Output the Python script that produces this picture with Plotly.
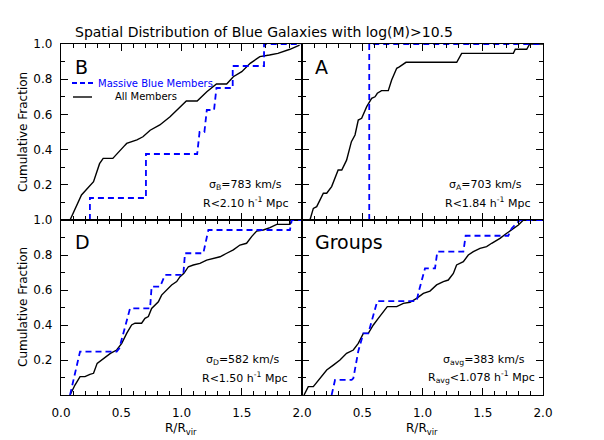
import plotly.graph_objects as go
from plotly.subplots import make_subplots

# the page adds an 8px body margin, so the figure is drawn 8px smaller
# and every pixel position below is measured in the 604x440 reference frame
PAGE, OFF = (604, 440), 8
W, H = PAGE[0] - OFF, PAGE[1] - OFF
FONT = "DejaVu Sans"
BLUE = "#0000ff"

TITLE = "Spatial Distribution of Blue Galaxies with log(M)>10.5"
PANEL_NAMES = ["B", "A", "D", "Groups"]
SIGMA_LABELS = [
    "σ<sub>B</sub>=783 km/s",
    "σ<sub>A</sub>=703 km/s",
    "σ<sub>D</sub>=582 km/s",
    "σ<sub>avg</sub>=383 km/s",
]
RADIUS_LABELS = [
    "R&lt;2.10 h<sup>-1</sup> Mpc",
    "R&lt;1.84 h<sup>-1</sup> Mpc",
    "R&lt;1.50 h<sup>-1</sup> Mpc",
    "R<sub>avg</sub>&lt;1.078 h<sup>-1</sup> Mpc",
]
LEGEND_NAMES = ["Massive Blue Members", "All Members"]
X_TICKS = [0.0, 0.5, 1.0, 1.5, 2.0]
Y_TICKS = [0.0, 0.2, 0.4, 0.6, 0.8, 1.0]

# panel B (cluster B)
B_ALL_X = [0.075, 0.17, 0.27, 0.32, 0.35, 0.43, 0.52, 0.545, 0.63, 0.68, 0.74, 0.82, 0.905,
           0.99, 1.04, 1.13, 1.21, 1.29, 1.375, 1.43, 1.50, 1.57, 1.65, 1.73, 1.80, 1.90, 1.98]
B_ALL_Y = [0.0, 0.142, 0.218, 0.32, 0.35, 0.35, 0.417, 0.435, 0.455, 0.473, 0.51, 0.54, 0.587,
           0.644, 0.676, 0.676, 0.729, 0.773, 0.773, 0.814, 0.843, 0.89, 0.928, 0.9375, 0.947, 0.97, 0.994]
B_BLUE_X = [0.24, 0.24, 0.705, 0.705, 1.13, 1.15, 1.19, 1.21, 1.27, 1.29, 1.425, 1.425, 1.685, 1.685, 2.0]
B_BLUE_Y = [0.0, 0.125, 0.125, 0.375, 0.375, 0.5, 0.5, 0.625, 0.625, 0.75, 0.75, 0.875, 0.875, 1.0, 1.0]

# panel A (cluster A)
A_ALL_X = [0.066, 0.094, 0.122, 0.177, 0.205, 0.246, 0.30, 0.33, 0.37, 0.41, 0.44, 0.467, 0.495,
           0.537, 0.578, 0.606, 0.625, 0.66, 0.716, 0.744, 0.786, 0.808, 0.863, 1.284, 1.325,
           1.754, 1.77, 1.865, 1.89, 2.0]
A_ALL_Y = [0.0, 0.066, 0.076, 0.152, 0.152, 0.19, 0.284, 0.284, 0.34, 0.445, 0.483, 0.568, 0.578,
           0.644, 0.691, 0.70, 0.72, 0.735, 0.735, 0.795, 0.862, 0.87, 0.896, 0.896, 0.947,
           0.947, 0.97, 0.97, 1.0, 1.0]
A_BLUE_X = [0.558, 0.558, 2.0]
A_BLUE_Y = [0.0, 1.0, 1.0]

# panel D (cluster D)
D_ALL_X = [0.075, 0.116, 0.158, 0.199, 0.24, 0.27, 0.30, 0.34, 0.37, 0.41, 0.462, 0.504, 0.545,
           0.586, 0.614, 0.669, 0.697, 0.725, 0.752, 0.78, 0.808, 0.835, 0.877, 0.918, 0.96,
           0.988, 1.02, 1.057, 1.098, 1.153, 1.209, 1.264, 1.32, 1.375, 1.43, 1.485, 1.54,
           1.582, 1.624, 1.679, 1.734, 1.79, 1.90, 1.915, 2.0]
D_ALL_Y = [0.0, 0.057, 0.105, 0.105, 0.118, 0.124, 0.181, 0.20, 0.219, 0.238, 0.257, 0.295, 0.352,
           0.40, 0.41, 0.41, 0.438, 0.448, 0.495, 0.514, 0.533, 0.571, 0.60, 0.629, 0.648,
           0.676, 0.695, 0.733, 0.743, 0.752, 0.771, 0.781, 0.79, 0.81, 0.829, 0.857, 0.867,
           0.905, 0.937, 0.943, 0.956, 0.975, 0.975, 1.0, 1.0]
D_BLUE_X = [0.075, 0.158, 0.462, 0.484, 0.573, 0.739, 0.752, 0.822, 0.863, 1.015, 1.029, 1.181,
            1.223, 1.90, 1.915, 2.0]
D_BLUE_Y = [0.0, 0.248, 0.248, 0.267, 0.495, 0.495, 0.619, 0.619, 0.686, 0.686, 0.81, 0.81,
            0.943, 0.943, 1.0, 1.0]

# stacked groups
G_ALL_X = [0.017, 0.052, 0.094, 0.149, 0.205, 0.26, 0.315, 0.37, 0.426, 0.467, 0.509, 0.55, 0.592,
           0.633, 0.675, 0.708, 0.786, 0.841, 0.896, 0.951, 1.007, 1.062, 1.117, 1.173, 1.214,
           1.256, 1.283, 1.339, 1.38, 1.422, 1.477, 1.532, 1.574, 1.643, 1.699, 1.754, 1.796,
           1.837, 2.0]
G_ALL_Y = [0.0, 0.048, 0.048, 0.095, 0.143, 0.171, 0.20, 0.238, 0.257, 0.295, 0.352, 0.352, 0.40,
           0.438, 0.476, 0.505, 0.505, 0.524, 0.53, 0.552, 0.581, 0.594, 0.629, 0.648, 0.657,
           0.695, 0.743, 0.762, 0.80, 0.819, 0.838, 0.848, 0.867, 0.895, 0.924, 0.952, 0.971,
           1.0, 1.0]
G_BLUE_X = [0.246, 0.274, 0.412, 0.426, 0.467, 0.509, 0.55, 0.625, 0.952, 0.965, 1.021, 1.104,
            1.123, 1.339, 1.358, 1.712, 1.74, 1.809, 2.0]
G_BLUE_Y = [0.0, 0.086, 0.086, 0.095, 0.25, 0.352, 0.352, 0.537, 0.537, 0.581, 0.724, 0.724,
            0.819, 0.819, 0.91, 0.91, 0.952, 1.0, 1.0]

ALL_X = [B_ALL_X, A_ALL_X, D_ALL_X, G_ALL_X]
ALL_Y = [B_ALL_Y, A_ALL_Y, D_ALL_Y, G_ALL_Y]
BLUE_X = [B_BLUE_X, A_BLUE_X, D_BLUE_X, G_BLUE_X]
BLUE_Y = [B_BLUE_Y, A_BLUE_Y, D_BLUE_Y, G_BLUE_Y]


def px(x):
    return (x - OFF) / W


def py(y):
    return 1 - (y - OFF) / H


def note(x, y, text, size, color="black", anchor="center", angle=0):
    return dict(
        xref="paper", yref="paper", x=px(x), y=py(y), text=text, xanchor=anchor,
        yanchor="middle", showarrow=False, textangle=angle,
        font=dict(family=FONT, size=size, color=color),
    )


# panel frames in reference pixels: x 61|302|543, y 44|220|395
X_DOMAINS = [[px(61), px(302)], [px(302), px(543)]]
Y_DOMAINS = [[py(220), py(44)], [py(395), py(220)]]

fig = make_subplots(rows=2, cols=2, horizontal_spacing=0, vertical_spacing=0)

for i in range(4):
    row, col = i // 2 + 1, i % 2 + 1
    fig.add_trace(
        go.Scatter(x=ALL_X[i], y=ALL_Y[i], mode="lines", line=dict(color="black", width=1.4)),
        row=row, col=col,
    )
    fig.add_trace(
        go.Scatter(x=BLUE_X[i], y=BLUE_Y[i], mode="lines",
                   line=dict(color=BLUE, width=1.8, dash="6px,4px")),
        row=row, col=col,
    )

axis_style = dict(
    showline=True, linecolor="black", linewidth=1.3, mirror="ticks",
    ticks="inside", ticklen=7, tickwidth=1, tickcolor="black",
    showgrid=False, zeroline=False, automargin=False,
    tickfont=dict(family=FONT, size=12, color="black"),
    minor=dict(ticks="inside", ticklen=4, tickwidth=1, tickcolor="black", dtick=0.1, showgrid=False),
)

for i in range(4):
    row, col = i // 2, i % 2
    n = "" if i == 0 else str(i + 1)
    x_text = ["" for _ in X_TICKS]
    if row == 1:
        x_text = [f"{v:.1f}" for v in X_TICKS]
        if col == 1:
            x_text[0] = ""
    y_text = ["" for _ in Y_TICKS]
    if col == 0:
        y_text = [""] + [f"{v:.1f}" for v in Y_TICKS[1:]]
    fig.layout["xaxis" + n].update(
        range=[0, 2], domain=X_DOMAINS[col], tickvals=X_TICKS, ticktext=x_text,
        ticklabelstandoff=6, **axis_style,
    )
    fig.layout["yaxis" + n].update(
        range=[0, 1], domain=Y_DOMAINS[row], tickvals=Y_TICKS, ticktext=y_text,
        ticklabelstandoff=5, **axis_style,
    )

annotations = []
# panel names, sigma and radius labels
name_pos = [(73, 67), (313, 67), (73, 242), (313, 242)]
sigma_pos = [(245, 185), (485, 185), (242, 360), (484, 360)]
radius_pos = [(246, 203), (488, 203), (245, 377), (481, 377)]
for i in range(4):
    annotations.append(note(*name_pos[i], PANEL_NAMES[i], 19, anchor="left"))
    annotations.append(note(*sigma_pos[i], SIGMA_LABELS[i], 11))
    annotations.append(note(*radius_pos[i], RADIUS_LABELS[i], 11))

# axis titles
for yc in (132, 307):
    annotations.append(note(23, yc, "Cumulative Fraction", 12, angle=-90))
for xc in (181, 422):
    annotations.append(note(xc, 429, "R/R<sub>vir</sub>", 12))

# legend in panel B
annotations.append(note(96, 83, LEGEND_NAMES[0], 10, color=BLUE, anchor="left"))
annotations.append(note(113, 97, LEGEND_NAMES[1], 10, anchor="left"))
shapes = [
    dict(type="line", xref="paper", yref="paper", x0=px(72), x1=px(93), y0=py(83), y1=py(83),
         line=dict(color=BLUE, width=1.8, dash="5px,3px")),
    dict(type="line", xref="paper", yref="paper", x0=px(73), x1=px(92), y0=py(97), y1=py(97),
         line=dict(color="black", width=1.4)),
]

fig.update_layout(
    template="none",
    width=W, height=H,
    margin=dict(l=0, r=0, t=0, b=0),
    paper_bgcolor="white", plot_bgcolor="white",
    showlegend=False,
    title=dict(text=TITLE, x=px(264), xanchor="center", y=py(32), yanchor="middle",
               font=dict(family=FONT, size=14, color="black")),
    annotations=annotations,
    shapes=shapes,
)

fig.write_html("out.html")
